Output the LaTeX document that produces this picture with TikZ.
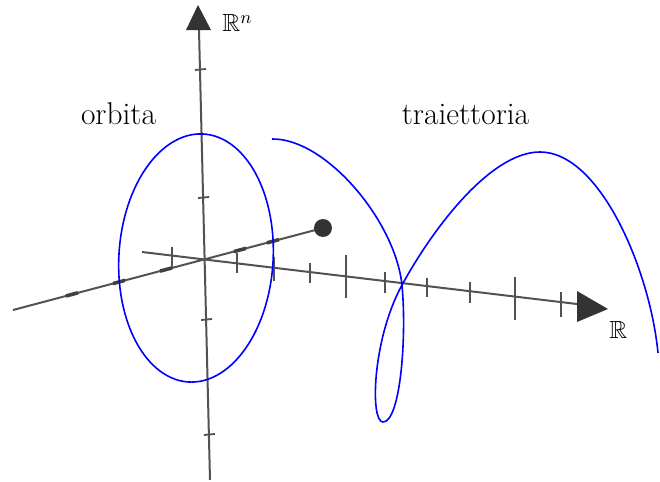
\documentclass[tikz,border=0pt]{standalone}
\usepackage{amssymb}
\begin{document}
\begin{tikzpicture}[x=0.5pt,y=-0.5pt,
  axis/.style={draw=black!68,line width=1pt},
  tick/.style={draw=black!68,line width=0.9pt},
  dtick/.style={draw=black!75,line width=1.8pt},
  curve/.style={draw=blue,line width=0.8pt},
  lbl/.style={font=\fontsize{15.7}{19}\selectfont,inner sep=0pt},
  axlbl/.style={font=\fontsize{12.4}{15}\selectfont,inner sep=0pt}]
\useasboundingbox (0,0) rectangle (660,482);
% coordinates
\coordinate (vbot) at (210,480);
\coordinate (vtop) at (199,30);
\coordinate (hstart) at (142,252);
\coordinate (hend) at (577,304);
\coordinate (dstart) at (13,310);
\coordinate (dend) at (323,228);
% depth axis
\draw[axis] (dstart) -- (dend);
\fill[black!80] (dend) circle (9);
\foreach \x in {72,119,166,240,273}{
  \draw[dtick] ({\x-6},{310-0.2645*(\x-13)+1.6}) -- ({\x+6},{310-0.2645*(\x-13)-1.6});
}
% horizontal axis
\draw[axis] (hstart) -- (hend);
\foreach \x/\a/\b in {172/247/267,237/253/273,274/257/281,310/263/283,346/255/298,385/272/293,427/278/297,470/282/303,515/277/320,561/292/317}{
  \draw[tick] (\x,\a) -- (\x,\b);
}
\fill[black!80] (577,291) -- (608,309) -- (577,322) -- cycle;
% vertical axis
\draw[axis] (vbot) -- (vtop);
\foreach \y in {70,198,320,435}{
  \draw[tick] ({199+11*(\y-30)/450-5},\y) -- ({199+11*(\y-30)/450+6},{\y-1});
}
\fill[black!80] (198,5) -- (211,30) -- (186,30) -- cycle;
% orbit
\draw[curve] plot[domain=0:360,samples=120,variable=\t]
  ({196+77*cos(\t)+7.4*sin(\t)},{258+4.6*cos(\t)-124*sin(\t)});
% trajectory
\coordinate (ts) at (272,139);
\coordinate (tx) at (402,285);
\coordinate (tb) at (383,422);
\coordinate (tt) at (540,152);
\coordinate (te) at (658,353);
\draw[curve] (ts) .. controls (325,138) and (395,220) .. (tx)
  .. controls (407,340) and (400,422) .. (tb)
  .. controls (370,422) and (372,340) .. (tx)
  .. controls (432,230) and (490,152) .. (tt)
  .. controls (600,152) and (650,270) .. (te);
% labels
\node[lbl,anchor=base] (orb) at (118.5,125) {orbita};
\node[lbl,anchor=base] (tra) at (465.5,125) {traiettoria};
\node[axlbl,anchor=base west] (rn) at (222,32) {$\mathbb{R}^n$};
\node[axlbl,anchor=base west] (r) at (609,338) {$\mathbb{R}$};
\end{tikzpicture}
\end{document}
